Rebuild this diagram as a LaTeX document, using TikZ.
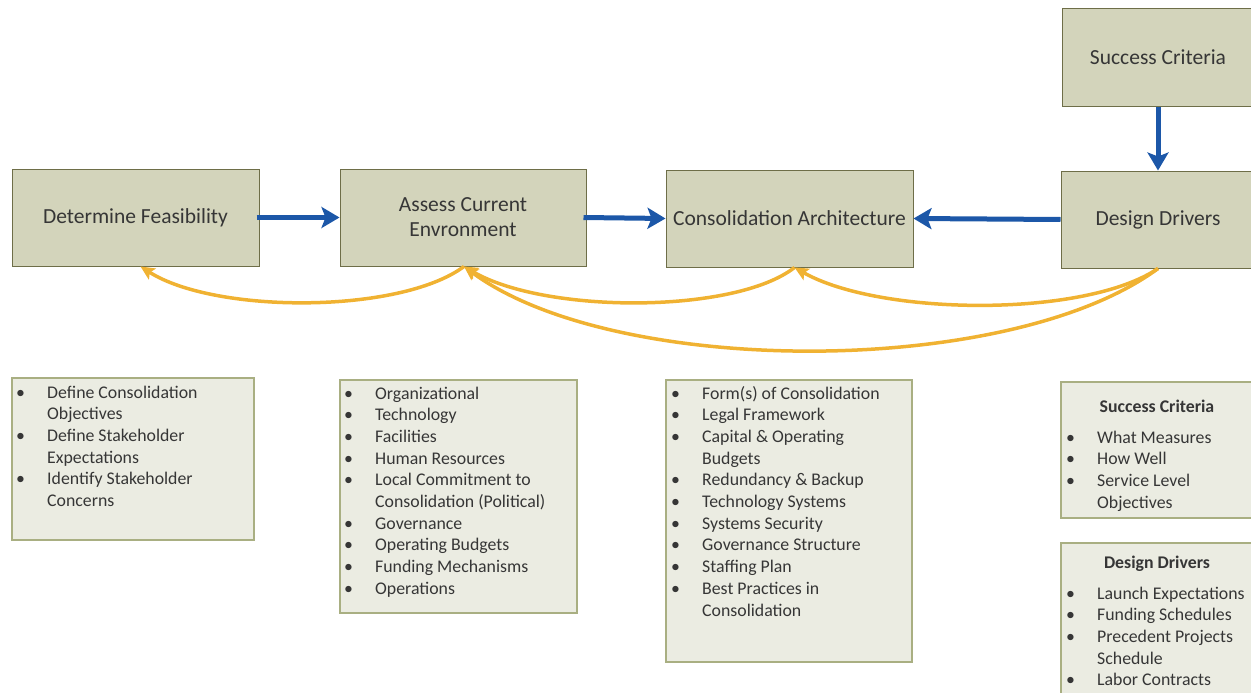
\documentclass[tikz,border=0pt]{standalone}
\usepackage{fontspec}
\setmainfont{Carlito}
\usetikzlibrary{arrows.meta}

\definecolor{boxfill}{HTML}{D3D4BB}
\definecolor{boxline}{HTML}{6E6E48}
\definecolor{listfill}{HTML}{EBECE2}
\definecolor{listline}{HTML}{A9AF82}
\definecolor{flowblue}{HTML}{1C57A8}
\definecolor{loopgold}{HTML}{F0B232}
\definecolor{inktext}{HTML}{363636}

% bullet item and continuation line for the lists
\newcommand{\bul}{\makebox[31pt][l]{\textbullet}}
\newcommand{\cont}{\hspace*{31pt}}

\begin{document}
\begin{tikzpicture}[x=1pt,y=-1pt,
  stage/.style={draw=boxline, line width=1pt, fill=boxfill, text=inktext,
    font=\fontsize{21.5}{25}\selectfont, align=center, inner sep=0pt},
  listbox/.style={draw=listline, line width=1.2pt, fill=listfill, inner sep=0pt},
  % anchored at the baseline of the last line
  listtext/.style={anchor=base west, inner sep=0pt, align=left, text=inktext,
    font=\fontsize{17.8}{21.7}\selectfont},
  listhead/.style={anchor=base, inner sep=0pt, text=inktext,
    font=\fontsize{17.8}{21.7}\selectfont\bfseries},
  flow/.style={draw=flowblue, line width=5pt,
    -{Stealth[length=18pt,width=21pt,inset=4pt]}},
  loop/.style={draw=loopgold, line width=3.5pt,
    -{Stealth[length=14pt,width=13pt,inset=3pt]}}
]
\useasboundingbox (0,0) rectangle (1251,693);

% process stages
\node[stage, minimum width=247pt, minimum height=97pt] (det) at (135.5,217.5) {Determine Feasibility};
\node[stage, minimum width=246pt, minimum height=97pt] (ass) at (463,217.5) {Assess Current\\Envronment};
\node[stage, minimum width=247pt, minimum height=97pt] (con) at (789.5,218.5) {Consolidation Architecture};
\node[stage, minimum width=194pt, minimum height=97pt] (dd) at (1158,219.5) {Design Drivers};
\node[stage, minimum width=192pt, minimum height=97pt] (sc) at (1158,57.5) {Success Criteria};

% main flow
\draw[flow] ([xshift=-3pt]det.east) -- (ass.west);
\draw[flow] ([xshift=-3pt]ass.east) -- (con.west);
\draw[flow] (dd.west) -- (con.east);
\draw[flow] (sc.south) -- (dd.north);

% feedback loops
\coordinate (ddb) at ([xshift=0pt]dd.south);
\coordinate (conb) at ([xshift=5pt]con.south);
\coordinate (assb) at ([xshift=1pt]ass.south);
\coordinate (detb) at ([xshift=5pt]det.south);
\draw[loop] (assb) .. controls (400,314) and (215,314) .. (detb);
\draw[loop] (conb) .. controls (735,314) and (545,314) .. (assb);
\draw[loop] (ddb) .. controls (1085,318) and (880,316) .. (conb);
\draw[loop] (ddb) .. controls (1010,378) and (615,378) .. (assb);

% detail lists
\node[listbox, minimum width=242pt, minimum height=162pt] (l1) at (133,459) {};
\node[listtext] (t1) at (16,506.5) {\bul Define Consolidation\\\cont Objectives\\\bul Define Stakeholder\\\cont Expectations\\\bul Identify Stakeholder\\\cont Concerns};

\node[listbox, minimum width=237pt, minimum height=233pt] (l2) at (458.5,496.5) {};
\node[listtext] (t2) at (344,594.3) {\bul Organizational\\\bul Technology\\\bul Facilities\\\bul Human Resources\\\bul Local Commitment to\\\cont Consolidation (Political)\\\bul Governance\\\bul Operating Budgets\\\bul Funding Mechanisms\\\bul Operations};

\node[listbox, minimum width=246pt, minimum height=282pt] (l3) at (789,521) {};
\node[listtext] (t3) at (671,616) {\bul Form(s) of Consolidation\\\bul Legal Framework\\\bul Capital \& Operating\\\cont Budgets\\\bul Redundancy \& Backup\\\bul Technology Systems\\\bul Systems Security\\\bul Governance Structure\\\bul Staffing Plan\\\bul Best Practices in\\\cont Consolidation};

\node[listbox, minimum width=194pt, minimum height=136pt] (l4) at (1158,450) {};
\node[listhead] (h4) at (1157,412) {Success Criteria};
\node[listtext] (t4) at (1066,508.1) {\bul What Measures\\\bul How Well\\\bul Service Level\\\cont Objectives};

\node[listbox, minimum width=194pt, minimum height=165pt] (l5) at (1158,625.5) {};
\node[listhead] (h5) at (1157,568) {Design Drivers};
\node[listtext] (t5) at (1066,685.8) {\bul Launch Expectations\\\bul Funding Schedules\\\bul Precedent Projects\\\cont Schedule\\\bul Labor Contracts};
\end{tikzpicture}
\end{document}
